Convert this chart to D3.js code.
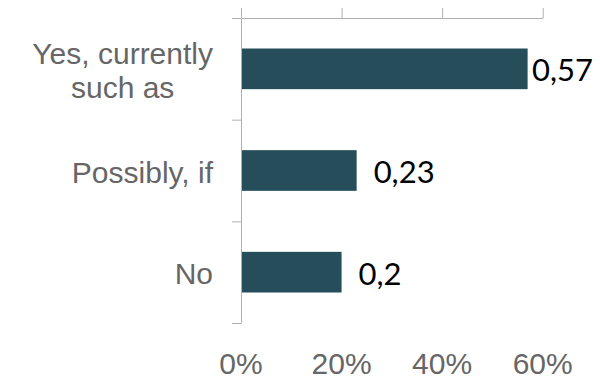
<!DOCTYPE html>
<html>
<head>
<meta charset="utf-8">
<script src="https://cdn.jsdelivr.net/npm/d3@7"></script>
<style>
  html, body { margin: 0; padding: 0; background: #ffffff; }
  svg { display: block; }
</style>
</head>
<body>
<svg id="chart" width="600" height="379"></svg>
<script>
// Survey answers, top to bottom
const categories = [["Yes, currently", "such as"], ["Possibly, if"], ["No"]];
const shares = [0.57, 0.23, 0.2];
const tickValues = [0, 0.2, 0.4, 0.6];
const tickLabels = ["0%", "20%", "40%", "60%"];

const W = 600, H = 379;
const plot = { left: 241, right: 542.7, top: 18, bottom: 323 };
const barColor = "#254d5a";
const axisColor = "#b0b0b0";
const textGray = "#666666";

const svg = d3.select("#chart");

const keys = categories.map((c, i) => i);

const x = d3.scaleLinear().domain([0, 0.6]).range([plot.left, plot.right]);
const y = d3.scaleBand().domain(keys).range([plot.top, plot.bottom])
  .paddingInner(0.6).paddingOuter(0.3);
// category boundaries for the left axis tick marks
const yEdge = d3.scaleLinear().domain([0, categories.length]).range([plot.top, plot.bottom]);

// bars
svg.append("g").selectAll("rect")
  .data(shares)
  .join("rect")
  .attr("x", x(0))
  .attr("y", (d, i) => y(i))
  .attr("width", d => x(d) - x(0))
  .attr("height", y.bandwidth())
  .attr("fill", barColor);

// top value axis (ticks only)
const topAxis = svg.append("g")
  .attr("transform", `translate(0,${plot.top})`)
  .call(d3.axisTop(x).tickValues(tickValues).tickFormat("").tickSize(10).tickSizeOuter(0));
topAxis.selectAll("path, line").attr("stroke", axisColor).attr("stroke-width", 1);

// left category axis with boundary ticks
const leftAxis = svg.append("g")
  .attr("transform", `translate(${plot.left},0)`)
  .call(d3.axisLeft(yEdge).tickValues(d3.range(categories.length + 1)).tickFormat("").tickSize(9).tickSizeOuter(0));
leftAxis.selectAll("path, line").attr("stroke", axisColor).attr("stroke-width", 1);

// category labels, right-aligned block with centered lines
const lineGap = 33.4;
categories.forEach((lines, i) => {
  const cy = y(i) + y.bandwidth() / 2;
  const g = svg.append("text")
    .attr("font-family", "Liberation Sans, Arial, sans-serif")
    .attr("font-size", 30)
    .attr("fill", textGray)
    .attr("text-anchor", "middle");
  const tspans = g.selectAll("tspan").data(lines).join("tspan")
    .text(d => d)
    .attr("y", (d, j) => cy + 12 + (j - (lines.length - 1) / 2) * lineGap);
  // width of the widest line sets the block centre so its right edge sits at 213
  let maxW = 0;
  tspans.each(function () { maxW = Math.max(maxW, this.getComputedTextLength()); });
  tspans.attr("x", 213 - maxW / 2);
});

// bottom percentage labels
svg.append("g").selectAll("text")
  .data(tickValues)
  .join("text")
  .attr("x", d => x(d))
  .attr("y", 374)
  .attr("text-anchor", "middle")
  .attr("font-family", "Liberation Sans, Arial, sans-serif")
  .attr("font-size", 30)
  .attr("fill", textGray)
  .text((d, i) => tickLabels[i]);

// value labels, pulled back inside the frame when they would overflow
const fmt = v => String(v).replace(".", ",");
svg.append("g").selectAll("text")
  .data(shares)
  .join("text")
  .attr("y", (d, i) => y(i) + y.bandwidth() / 2 + 12.5)
  .attr("font-family", "Lato, sans-serif")
  .attr("font-size", 31)
  .attr("fill", "#000000")
  .text(d => fmt(d))
  .each(function (d) {
    const w = this.getComputedTextLength();
    const xs = Math.min(x(d) + 17, W - 7 - w);
    d3.select(this).attr("x", xs);
  });
</script>
</body>
</html>
